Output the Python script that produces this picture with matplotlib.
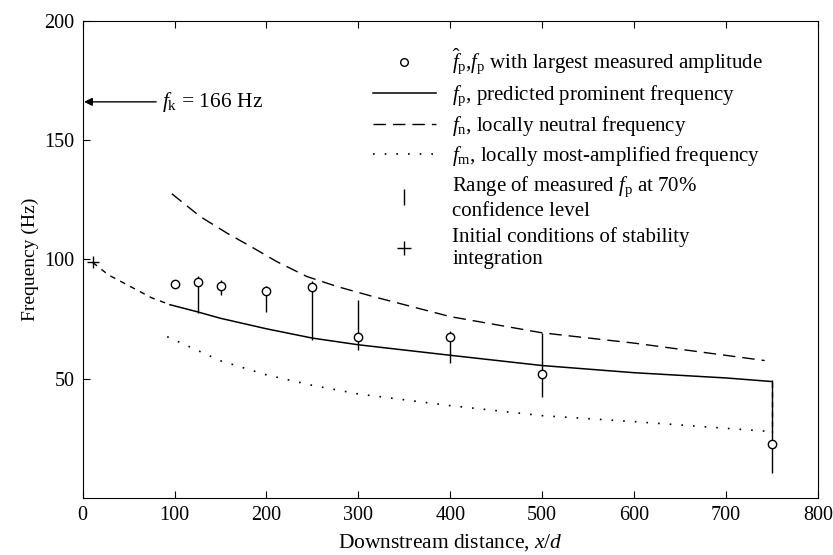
import numpy as np
import matplotlib
matplotlib.use("Agg")
from matplotlib import pyplot as plt
from matplotlib.lines import Line2D

plt.rcParams["font.family"] = ["Liberation Serif", "DejaVu Serif"]
plt.rcParams["mathtext.fontset"] = "custom"
plt.rcParams["mathtext.rm"] = "Liberation Serif"
plt.rcParams["mathtext.it"] = "Liberation Serif:italic"

# measured prominent frequency (circles)
meas_x = [100, 125, 150, 200, 250, 300, 400, 500, 750]
meas_f = [89.6, 90.7, 88.9, 86.8, 88.6, 67.6, 67.6, 52.0, 22.6]

# 70% confidence ranges
bar_x = [125, 150, 200, 250, 300, 400, 500, 750]
bar_lo = [77.5, 85.0, 78.0, 66.0, 62.0, 56.6, 42.5, 10.5]
bar_hi = [93.0, 91.5, 89.0, 91.0, 83.0, 70.0, 69.2, 49.5]

# predicted prominent frequency f_p
pred_x = [95, 124, 150, 200, 250, 300, 400, 500, 600, 700, 750]
pred_f = [81.0, 78.1, 75.3, 70.9, 67.0, 64.2, 59.8, 55.5, 52.5, 50.3, 48.8]

# initial part of the integration (short dashes)
init_x = [11, 28, 52, 75, 95]
init_f = [98.7, 93.5, 88.6, 83.9, 81.0]

# locally neutral frequency f_n
neut_x = [97, 128, 157, 186, 211, 244, 277, 316, 400, 500, 600, 742]
neut_f = [127.5, 117.9, 111.0, 104.7, 99.1, 92.8, 88.6, 84.4, 76.0, 69.2, 64.9, 57.6]

# locally most-amplified frequency f_m
amp_x = [92, 150, 200, 250, 300, 400, 500, 600, 750]
amp_f = [67.6, 57.5, 51.6, 47.2, 43.6, 38.7, 34.5, 32.0, 27.8]

f_k = 166

fig = plt.figure(figsize=(8.33, 5.55), dpi=100)
ax = fig.add_axes([0.0992, 0.1027, 0.8828, 0.86])

ax.plot(pred_x, pred_f, color="black", lw=1.1)
ax.plot(init_x, init_f, color="black", lw=1.0, dashes=(4, 4))
ax.plot(neut_x, neut_f, color="black", lw=1.0, dashes=(9, 5))
ax.plot(amp_x, amp_f, color="black", lw=1.2, dashes=(1, 6))
ax.plot([pred_x[-1], pred_x[-1]], [pred_f[-1], amp_f[-1]], color="black",
        lw=1.0, dashes=(4, 3))
ax.vlines(bar_x, bar_lo, bar_hi, color="black", lw=1.0)
ax.plot(meas_x, meas_f, "o", ms=6, mfc="white", mec="black", mew=1.0)
ax.plot(init_x[0], init_f[0], "+", ms=9, color="black", mew=1.0)

ax.annotate("", xy=(0, f_k), xytext=(80, f_k),
            arrowprops=dict(arrowstyle="-|>", color="black", lw=1.0,
                            shrinkA=0, shrinkB=1, mutation_scale=12))
ax.text(86, f_k, r"$f_{\rm k}$ = 166 Hz", fontsize=15.5, va="center", ha="left")

ax.set_xlim(0, 800)
ax.set_ylim(0, 200)
ax.set_xticks(np.arange(0, 801, 100))
ax.set_yticks([50, 100, 150, 200])
ax.tick_params(direction="in", length=5, top=True, labelsize=14.5, pad=6)
ax.set_xlabel(r"Downstream distance, $x/d$", fontsize=15.5, labelpad=5)
ax.set_ylabel("Frequency (Hz)", fontsize=14)

handles = [
    Line2D([], [], ls="none", marker="o", ms=5.5, mfc="white", mec="black"),
    Line2D([], [], color="black", lw=1.1),
    Line2D([], [], color="black", lw=1.0, dashes=(9, 5)),
    Line2D([], [], color="black", lw=1.2, dashes=(1, 6)),
    Line2D([], [], ls="none", marker="|", ms=11, color="black"),
    Line2D([], [], ls="none", marker="+", ms=10, color="black"),
]
labels = [
    r"$\hat{f}_{\rm p}$,$f_{\rm p}$ with largest measured amplitude",
    r"$f_{\rm p}$, predicted prominent frequency",
    r"$f_{\rm n}$, locally neutral frequency",
    r"$f_{\rm m}$, locally most-amplified frequency",
    "Range of measured $f_{\\rm p}$ at 70%\nconfidence level",
    "Initial conditions of stability\nintegration",
]
ax.legend(handles, labels, loc="upper left", bbox_to_anchor=(0.395, 0.945),
          frameon=False, fontsize=15, handlelength=3.0, handletextpad=0.8,
          labelspacing=0.3, borderaxespad=0, borderpad=0)

fig.savefig("out.png", dpi=100)
